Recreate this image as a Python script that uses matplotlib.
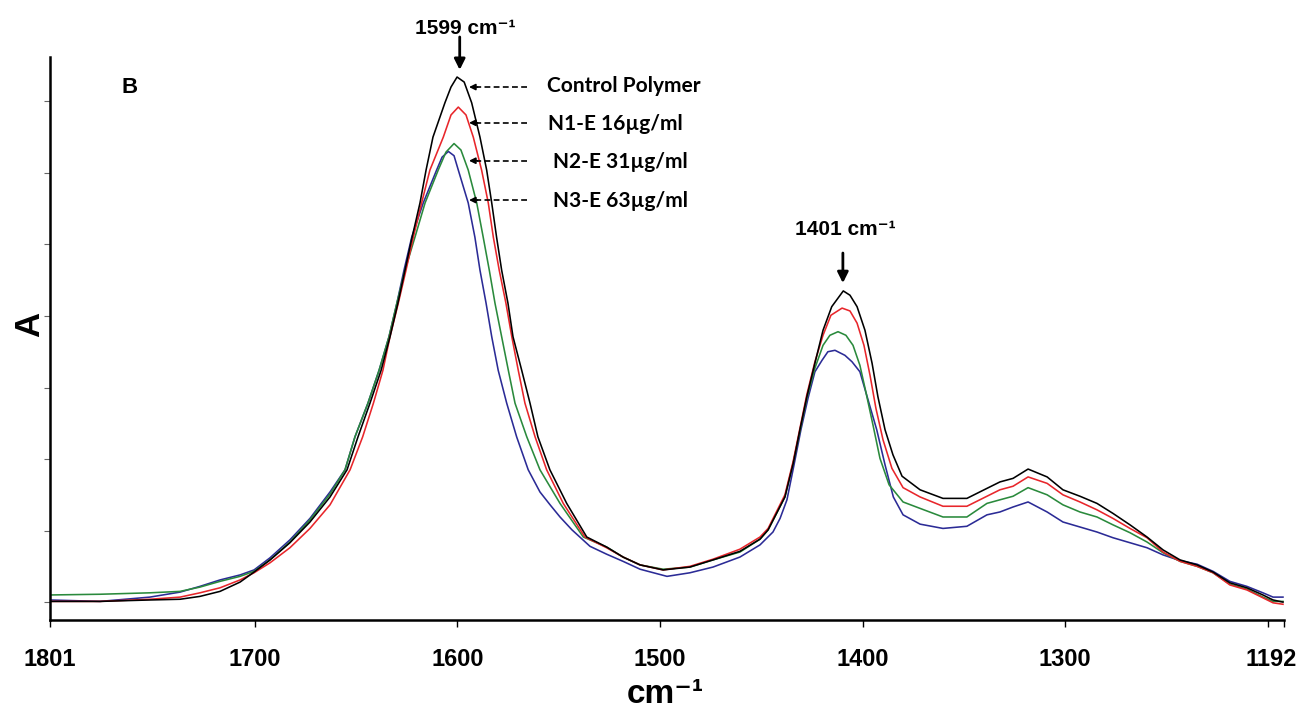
import matplotlib
matplotlib.use("Agg")
import matplotlib.pyplot as plt
import matplotlib.transforms as mtransforms

# ---------------- data (wavenumber cm-1, absorbance a.u.) ----------------
wn_control = [1801.0, 1776.3, 1751.7, 1736.8, 1727.0, 1717.1, 1707.2, 1700.3, 1692.4, 1682.6,
              1672.7, 1662.8, 1654.4, 1649.0, 1643.1, 1637.6, 1633.2, 1629.3, 1625.8, 1622.3,
              1618.4, 1615.4, 1612.0, 1606.1, 1603.1, 1600.1, 1596.6, 1592.9, 1588.8, 1585.5,
              1583.0, 1580.6, 1578.1, 1575.0, 1572.5, 1568.2, 1564.1, 1560.2, 1554.3, 1546.0,
              1536.1, 1526.3, 1518.2, 1509.8, 1498.4, 1485.2, 1473.8, 1460.5, 1450.6, 1446.6,
              1438.3, 1434.2, 1430.9, 1427.5, 1423.5, 1419.5, 1415.2, 1409.5, 1406.2, 1402.7,
              1398.8, 1395.3, 1392.4, 1388.9, 1385.0, 1380.5, 1371.6, 1360.3, 1348.5, 1338.6,
              1332.2, 1325.7, 1318.3, 1308.9, 1301.1, 1292.7, 1284.3, 1276.4, 1268.0, 1259.6,
              1251.7, 1243.3, 1234.9, 1227.0, 1218.7, 1210.3, 1202.4, 1197.4, 1192.5]
a_control = [0.001, 0.001, 0.003, 0.004, 0.008, 0.015, 0.028, 0.042, 0.059, 0.083,
             0.112, 0.147, 0.185, 0.231, 0.278, 0.324, 0.371, 0.418, 0.464, 0.510,
             0.558, 0.604, 0.650, 0.698, 0.720, 0.734, 0.727, 0.698, 0.650, 0.604,
             0.558, 0.510, 0.464, 0.418, 0.371, 0.324, 0.278, 0.231, 0.185, 0.138,
             0.091, 0.077, 0.063, 0.052, 0.045, 0.049, 0.059, 0.071, 0.088, 0.101,
             0.147, 0.194, 0.241, 0.287, 0.334, 0.380, 0.413, 0.435, 0.429, 0.413,
             0.380, 0.334, 0.287, 0.241, 0.206, 0.176, 0.157, 0.145, 0.145, 0.159,
             0.168, 0.173, 0.186, 0.175, 0.157, 0.148, 0.138, 0.124, 0.108, 0.091,
             0.073, 0.059, 0.052, 0.042, 0.027, 0.020, 0.010, 0.003, 0.000]

wn_n1 = [1801.0, 1776.3, 1751.7, 1736.8, 1727.0, 1717.1, 1707.2, 1700.3, 1692.4, 1682.6,
         1672.7, 1662.8, 1652.9, 1646.7, 1641.4, 1636.7, 1633.2, 1629.1, 1625.3, 1621.7,
         1617.6, 1613.5, 1606.9, 1603.1, 1599.5, 1595.7, 1592.1, 1588.0, 1584.7, 1582.2,
         1579.3, 1576.0, 1573.1, 1569.9, 1566.6, 1561.6, 1555.9, 1547.7, 1537.0, 1526.3,
         1518.2, 1509.8, 1498.4, 1485.2, 1473.8, 1460.5, 1450.6, 1446.6, 1438.3, 1434.3,
         1430.9, 1427.5, 1423.5, 1419.5, 1415.6, 1410.1, 1406.2, 1402.7, 1399.3, 1396.3,
         1393.4, 1389.9, 1385.5, 1380.0, 1371.6, 1360.3, 1348.5, 1338.6, 1332.2, 1325.7,
         1318.3, 1308.9, 1301.1, 1292.7, 1284.3, 1276.4, 1268.0, 1259.6, 1251.7, 1243.3,
         1234.9, 1227.0, 1218.7, 1210.3, 1202.4, 1197.4, 1192.5]
a_n1 = [0.001, 0.001, 0.004, 0.007, 0.013, 0.020, 0.031, 0.041, 0.055, 0.076,
        0.103, 0.136, 0.185, 0.231, 0.278, 0.324, 0.371, 0.418, 0.464, 0.510,
        0.558, 0.604, 0.650, 0.681, 0.692, 0.681, 0.650, 0.604, 0.558, 0.510,
        0.464, 0.418, 0.371, 0.324, 0.278, 0.231, 0.185, 0.138, 0.091, 0.076,
        0.063, 0.052, 0.045, 0.050, 0.060, 0.074, 0.091, 0.103, 0.150, 0.196,
        0.243, 0.290, 0.336, 0.373, 0.401, 0.411, 0.407, 0.390, 0.359, 0.317,
        0.271, 0.227, 0.187, 0.160, 0.147, 0.134, 0.134, 0.148, 0.157, 0.162,
        0.175, 0.166, 0.150, 0.140, 0.129, 0.117, 0.103, 0.090, 0.070, 0.057,
        0.050, 0.041, 0.024, 0.017, 0.006, -0.001, -0.003]

wn_n2 = [1801.0, 1776.3, 1751.7, 1736.8, 1727.0, 1717.1, 1707.2, 1700.3, 1692.4, 1682.6,
         1672.7, 1662.8, 1655.4, 1650.5, 1644.1, 1638.6, 1633.7, 1629.8, 1625.8, 1620.9,
         1615.9, 1609.4, 1605.6, 1601.6, 1598.2, 1594.6, 1590.4, 1587.2, 1584.2, 1581.4,
         1578.1, 1574.8, 1571.5, 1565.7, 1559.2, 1549.3, 1537.8, 1526.3, 1518.2, 1509.8,
         1498.4, 1485.2, 1473.8, 1460.5, 1450.6, 1446.6, 1438.3, 1434.3, 1430.9, 1427.5,
         1423.5, 1419.5, 1416.1, 1412.1, 1408.2, 1404.7, 1401.3, 1398.3, 1394.8, 1391.4,
         1386.9, 1380.0, 1371.6, 1360.3, 1348.5, 1338.6, 1332.2, 1325.7, 1318.3, 1308.9,
         1301.1, 1292.7, 1284.3, 1276.4, 1268.0, 1259.6, 1251.7, 1243.3, 1234.9, 1227.0,
         1218.7, 1210.3, 1202.4, 1197.4, 1192.5]
a_n2 = [0.010, 0.011, 0.013, 0.015, 0.021, 0.029, 0.036, 0.043, 0.059, 0.084,
        0.115, 0.151, 0.185, 0.231, 0.278, 0.324, 0.371, 0.418, 0.464, 0.510,
        0.558, 0.604, 0.629, 0.641, 0.632, 0.604, 0.558, 0.510, 0.464, 0.418,
        0.371, 0.324, 0.278, 0.231, 0.185, 0.138, 0.091, 0.077, 0.063, 0.052,
        0.046, 0.049, 0.059, 0.070, 0.088, 0.101, 0.147, 0.194, 0.239, 0.285,
        0.327, 0.359, 0.373, 0.378, 0.373, 0.359, 0.331, 0.293, 0.247, 0.201,
        0.164, 0.140, 0.131, 0.119, 0.119, 0.138, 0.143, 0.148, 0.160, 0.150,
        0.136, 0.126, 0.119, 0.108, 0.097, 0.084, 0.069, 0.057, 0.050, 0.041,
        0.025, 0.018, 0.007, 0.001, 0.001]

wn_n3 = [1801.0, 1776.3, 1751.7, 1736.8, 1727.0, 1717.1, 1707.2, 1700.3, 1692.4, 1682.6,
         1672.7, 1662.8, 1655.4, 1650.5, 1644.1, 1638.6, 1633.7, 1629.8, 1626.3, 1622.5,
         1616.8, 1610.2, 1607.5, 1604.4, 1601.6, 1599.5, 1594.6, 1591.3, 1588.8, 1585.8,
         1583.0, 1579.8, 1575.6, 1570.7, 1565.0, 1559.2, 1554.2, 1549.3, 1543.4, 1534.5,
         1526.3, 1518.2, 1509.8, 1496.5, 1485.2, 1473.8, 1460.5, 1450.6, 1444.2, 1440.7,
         1437.3, 1433.8, 1430.4, 1426.9, 1423.5, 1420.0, 1417.1, 1413.6, 1408.7, 1405.2,
         1401.3, 1397.3, 1393.0, 1388.9, 1384.8, 1380.0, 1371.6, 1360.3, 1348.5, 1338.6,
         1332.2, 1325.7, 1318.3, 1308.9, 1301.1, 1292.7, 1284.3, 1276.4, 1268.0, 1259.6,
         1251.7, 1243.3, 1234.9, 1227.0, 1218.7, 1210.3, 1202.4, 1197.4, 1192.5]
a_n3 = [0.003, 0.001, 0.007, 0.014, 0.022, 0.031, 0.038, 0.045, 0.062, 0.087,
        0.117, 0.154, 0.185, 0.231, 0.278, 0.324, 0.371, 0.418, 0.464, 0.510,
        0.558, 0.604, 0.622, 0.630, 0.624, 0.604, 0.558, 0.510, 0.464, 0.418,
        0.371, 0.324, 0.278, 0.231, 0.185, 0.154, 0.136, 0.119, 0.101, 0.078,
        0.067, 0.057, 0.046, 0.036, 0.041, 0.049, 0.063, 0.080, 0.098, 0.117,
        0.143, 0.192, 0.241, 0.285, 0.322, 0.338, 0.350, 0.352, 0.345, 0.336,
        0.322, 0.283, 0.241, 0.192, 0.147, 0.122, 0.109, 0.103, 0.106, 0.122,
        0.126, 0.133, 0.140, 0.126, 0.112, 0.105, 0.098, 0.090, 0.083, 0.076,
        0.066, 0.058, 0.053, 0.043, 0.029, 0.022, 0.013, 0.007, 0.007]

series_names = ["Control Polymer", "N1-E 16µg/ml", "N2-E 31µg/ml", "N3-E 63µg/ml"]
series_colors = ["#000000", "#e8262b", "#2a8a3c", "#2b2b96"]

x_ticks = [1801, 1700, 1600, 1500, 1400, 1300, 1200, 1192]
x_tick_labels = ["1801", "1700", "1600", "1500", "1400", "1300", "", "1192"]
y_ticks = [0.0, 0.1, 0.2, 0.3, 0.4, 0.5, 0.6, 0.7]

# ---------------- figure ----------------
W, H = 1306, 721
fig = plt.figure(figsize=(W / 100, H / 100), dpi=100)
ax = fig.add_axes([50 / W, 1 - 620 / H, (1284 - 50) / W, (620 - 57) / H])

curves = [(wn_control, a_control), (wn_n1, a_n1), (wn_n2, a_n2), (wn_n3, a_n3)]
# draw blue first so black ends on top
for (wn, a), col in reversed(list(zip(curves, series_colors))):
    ax.plot(wn, a, color=col, lw=1.15, solid_joinstyle="round")

ax.set_xlim(1801, 1192)
ax.set_ylim(-0.025, 0.762)

for s in ("top", "right"):
    ax.spines[s].set_visible(False)
for s in ("left", "bottom"):
    ax.spines[s].set_linewidth(1.8)

ax.set_xticks(x_ticks)
ax.set_xticklabels(x_tick_labels, fontsize=17, fontweight="bold", family="Liberation Sans")
ax.tick_params(axis="x", direction="out", length=5, width=1, pad=15)
ax.set_yticks(y_ticks)
ax.set_yticklabels([])
ax.tick_params(axis="y", direction="out", length=4, width=0.8, colors="#666666")

# nudge the end label slightly left, as in the original
offset = mtransforms.ScaledTranslation(-13 / 100, 0, fig.dpi_scale_trans)
lab = ax.get_xticklabels()[-1]
lab.set_transform(lab.get_transform() + offset)

# axis titles
fig.text(665 / W, 1 - 703 / H, "cm\u207b\u00b9", fontsize=24, fontweight="bold",
         family=["Liberation Sans", "DejaVu Sans"], ha="center", va="baseline")
fig.text(30 / W, 1 - 324 / H, "A", fontsize=25, fontweight="bold",
         family="Liberation Sans", rotation=90, ha="center", va="center")

# panel letter
ax.text(1761.5, 0.719, "B", fontsize=16, fontweight="bold", family="Liberation Sans",
        ha="center", va="center")

# peak annotations
peak_fam = ["Liberation Sans", "DejaVu Sans"]
ax.text(1596.2, 0.794, "1599 cm\u207b\u00b9", fontsize=15, fontweight="bold",
        family=peak_fam, ha="center", va="baseline", clip_on=False)
ax.annotate("", xy=(1598.8, 0.744), xytext=(1598.8, 0.790),
            arrowprops=dict(arrowstyle="-|>", color="black", lw=2, mutation_scale=16,
                            shrinkA=0, shrinkB=0), annotation_clip=False)
ax.text(1408.7, 0.513, "1401 cm\u207b\u00b9", fontsize=15, fontweight="bold",
        family=peak_fam, ha="center", va="baseline")
ax.annotate("", xy=(1409.7, 0.446), xytext=(1409.7, 0.488),
            arrowprops=dict(arrowstyle="-|>", color="black", lw=2, mutation_scale=16,
                            shrinkA=0, shrinkB=0))

# series labels with dashed pointer arrows
label_y = [0.713, 0.660, 0.607, 0.552]
label_x = [1555.9, 1555.2, 1552.8, 1552.8]
pointer_y = [0.720, 0.670, 0.617, 0.562]
for name, lx, ly, py in zip(series_names, label_x, label_y, pointer_y):
    ax.text(lx, ly, name, fontsize=15, fontweight="bold", family=["Lato", "DejaVu Sans"],
            ha="left", va="baseline")
    ax.plot([1565.6, 1590.5], [py, py], color="black", lw=1.2, dashes=(3.5, 2))
    ax.annotate("", xy=(1594.2, py), xytext=(1590.0, py),
                arrowprops=dict(arrowstyle="-|>", color="black", lw=1.2,
                                mutation_scale=9, shrinkA=0, shrinkB=0))

fig.savefig("out.png", dpi=100)
